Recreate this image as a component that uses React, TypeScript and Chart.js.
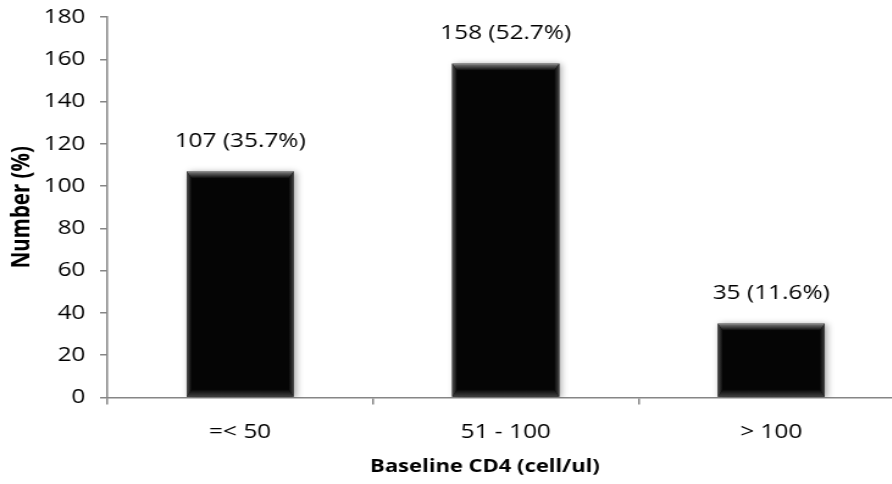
import React, { useEffect, useRef } from "react";
import { Chart, registerables } from "chart.js";

Chart.register(...registerables);

// ---- data ----
const categories = ["=< 50", "51 - 100", "> 100"];
const counts = [107, 158, 35];
const percents = [35.7, 52.7, 11.6];
const yMin = 0;
const yMax = 180;
const yStep = 20;
const xTitle = "Baseline CD4 (cell/ul)";
const yTitle = "Number (%)";

// ---- layout (logical canvas is stretched horizontally, like the reference) ----
const STRETCH = 1.22;
const W = 795;
const H = 484;
const FONT = '"Open Sans", "Liberation Sans", sans-serif';
const AXIS = "#868686";

const bevelPlugin = {
  id: "bevel",
  beforeDatasetDraw(chart: any) {
    const ctx = chart.ctx;
    ctx.save();
    ctx.shadowColor = "rgba(0,0,0,0.35)";
    ctx.shadowBlur = 6;
    ctx.shadowOffsetX = 2;
    ctx.shadowOffsetY = 1;
  },
  afterDatasetDraw(chart: any) {
    chart.ctx.restore();
  },
  afterDatasetsDraw(chart: any) {
    const ctx = chart.ctx as CanvasRenderingContext2D;
    const meta = chart.getDatasetMeta(0);
    meta.data.forEach((bar: any, i: number) => {
      const { x, y, base, width } = bar.getProps(["x", "y", "base", "width"], true);
      const l = x - width / 2;
      const r = x + width / 2;
      const t = y;
      const b = base;
      const bh = 7;
      const bw = 4;
      ctx.save();
      // top bevel
      let g = ctx.createLinearGradient(0, t, 0, t + bh);
      g.addColorStop(0, "#b0b0b0");
      g.addColorStop(0.2, "#6a6a6a");
      g.addColorStop(1, "#080808");
      ctx.fillStyle = g;
      ctx.beginPath();
      ctx.moveTo(l, t);
      ctx.lineTo(r, t);
      ctx.lineTo(r - bw, t + bh);
      ctx.lineTo(l + bw, t + bh);
      ctx.closePath();
      ctx.fill();
      // bottom bevel
      g = ctx.createLinearGradient(0, b - bh, 0, b);
      g.addColorStop(0, "#080808");
      g.addColorStop(1, "#404040");
      ctx.fillStyle = g;
      ctx.beginPath();
      ctx.moveTo(l + bw, b - bh);
      ctx.lineTo(r - bw, b - bh);
      ctx.lineTo(r, b);
      ctx.lineTo(l, b);
      ctx.closePath();
      ctx.fill();
      // left bevel
      g = ctx.createLinearGradient(l, 0, l + bw, 0);
      g.addColorStop(0, "#505050");
      g.addColorStop(1, "#080808");
      ctx.fillStyle = g;
      ctx.beginPath();
      ctx.moveTo(l, t);
      ctx.lineTo(l + bw, t + bh);
      ctx.lineTo(l + bw, b - bh);
      ctx.lineTo(l, b);
      ctx.closePath();
      ctx.fill();
      // right bevel
      g = ctx.createLinearGradient(r - bw, 0, r, 0);
      g.addColorStop(0, "#080808");
      g.addColorStop(1, "#404040");
      ctx.fillStyle = g;
      ctx.beginPath();
      ctx.moveTo(r, t);
      ctx.lineTo(r - bw, t + bh);
      ctx.lineTo(r - bw, b - bh);
      ctx.lineTo(r, b);
      ctx.closePath();
      ctx.fill();
      // value label
      ctx.fillStyle = "#000";
      ctx.font = `20px ${FONT}`;
      ctx.textAlign = "center";
      ctx.textBaseline = "alphabetic";
      ctx.fillText(`${counts[i]} (${percents[i].toFixed(1)}%)`, x, t - 24);
      ctx.restore();
    });
  },
};

export default function App() {
  const ref = useRef<HTMLCanvasElement | null>(null);

  useEffect(() => {
    if (!ref.current) return;
    const chart = new Chart(ref.current, {
      type: "bar",
      data: {
        labels: categories,
        datasets: [
          {
            data: counts,
            backgroundColor: "#050505",
            borderWidth: 0,
            barPercentage: 0.403,
            categoryPercentage: 1,
            yAxisID: "y",
          },
        ],
      },
      plugins: [bevelPlugin],
      options: {
        responsive: false,
        animation: false,
        devicePixelRatio: 1,
        layout: { padding: { top: 17, right: 0, left: 0, bottom: 0 } },
        plugins: {
          legend: { display: false },
          tooltip: { enabled: false },
          title: {
            display: true,
            position: "bottom",
            text: xTitle,
            color: "#000",
            font: { family: FONT, size: 18, weight: "bold" },
            padding: { top: 0, bottom: 6 },
          },
        },
        scales: {
          x: {
            afterFit: (s: any) => {
              s.height = 59;
              s.paddingLeft = 0;
              s.paddingRight = 0;
            },
            grid: {
              display: true,
              drawOnChartArea: false,
              drawTicks: true,
              tickLength: 7,
              color: AXIS,
              lineWidth: 1.5,
              offset: true,
            },
            border: { display: true, color: AXIS, width: 1.5 },
            ticks: {
              color: "#000",
              padding: 16,
              font: { family: FONT, size: 20 },
              maxRotation: 0,
            },
          },
          y: {
            min: yMin,
            max: yMax,
            afterFit: (s: any) => {
              s.width = 88;
              s.paddingTop = 0;
              s.paddingBottom = 0;
            },
            grid: {
              display: true,
              drawOnChartArea: false,
              drawTicks: true,
              tickLength: 6,
              color: AXIS,
              lineWidth: 1.5,
            },
            border: { display: true, color: AXIS, width: 1.5 },
            ticks: {
              stepSize: yStep,
              color: "#000",
              padding: 12,
              font: { family: FONT, size: 20 },
            },
            title: {
              display: true,
              text: yTitle,
              color: "#000",
              font: { family: FONT, size: 20.5, weight: "bold" },
              padding: { top: 6, bottom: 0 },
            },
          },
          yRight: {
            position: "right",
            display: true,
            afterFit: (s: any) => {
              s.width = 54;
              s.paddingTop = 0;
              s.paddingBottom = 0;
            },
            grid: { display: false },
            border: { display: false },
            ticks: { display: false },
          },
        },
      },
    } as any);
    return () => chart.destroy();
  }, []);

  return (
    <div
      style={{
        position: "fixed",
        left: 0,
        top: 0,
        width: 892,
        height: 484,
        overflow: "hidden",
        background: "#fff",
      }}
    >
      <div
        style={{
          width: W,
          height: H,
          transform: `scaleX(${STRETCH})`,
          transformOrigin: "0 0",
        }}
      >
        <canvas ref={ref} width={W} height={H} style={{ display: "block" }} />
      </div>
    </div>
  );
}
